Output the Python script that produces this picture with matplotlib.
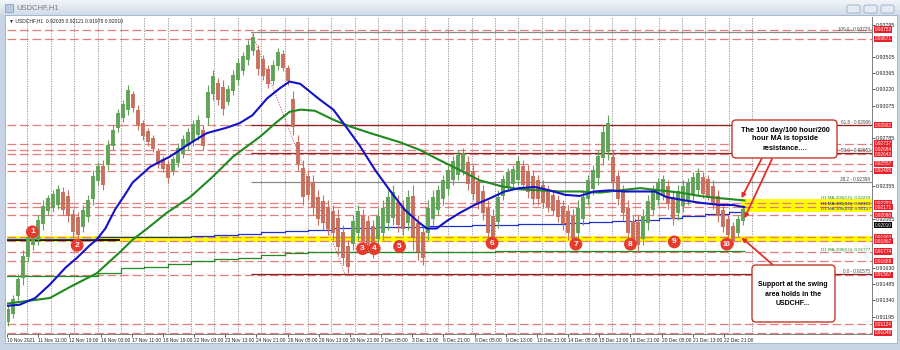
import numpy as np
import matplotlib.pyplot as plt
import matplotlib.transforms as mtransforms
from matplotlib.patches import Rectangle, FancyBboxPatch
from matplotlib.colors import LinearSegmentedColormap

plt.rcParams['font.family'] = ['Liberation Sans', 'DejaVu Sans']

# ---------------- data ----------------
symbol = "USDCHF,H1"
header_ohlc = "0.92035 0.92121 0.91978 0.92010"
bid = 0.92010

# hourly candles, grouped into ~5 bar columns (high / low)
col_high = [0.9130, 0.9139, 0.9157, 0.9179, 0.9195, 0.9201, 0.9210, 0.9223, 0.9228, 0.9232,
            0.9237, 0.9235, 0.9232, 0.9215, 0.9213, 0.9219, 0.9228, 0.9250, 0.9257, 0.9259,
            0.9277, 0.9290, 0.9305, 0.9313, 0.9326, 0.9321, 0.9308, 0.9295, 0.9288, 0.9281,
            0.9270, 0.9263, 0.9259, 0.9263, 0.9274, 0.9281, 0.9288, 0.9295, 0.9299, 0.9290,
            0.9326, 0.9339, 0.9332, 0.9330, 0.9326, 0.9339, 0.9350, 0.9355, 0.9366, 0.9372,
            0.9362, 0.9353, 0.9344, 0.9348, 0.9359, 0.9357, 0.9344, 0.9321, 0.9281, 0.9259,
            0.9250, 0.9246, 0.9232, 0.9228, 0.9223, 0.9219, 0.9215, 0.9201, 0.9188, 0.9210,
            0.9219, 0.9215, 0.9210, 0.9206, 0.9215, 0.9223, 0.9232, 0.9237, 0.9228, 0.9223,
            0.9232, 0.9237, 0.9210, 0.9201, 0.9223, 0.9232, 0.9237, 0.9246, 0.9255, 0.9263,
            0.9268, 0.9270, 0.9263, 0.9255, 0.9246, 0.9237, 0.9223, 0.9215, 0.9232, 0.9246,
            0.9252, 0.9255, 0.9263, 0.9259, 0.9255, 0.9250, 0.9246, 0.9241, 0.9237, 0.9232,
            0.9228, 0.9223, 0.9219, 0.9215, 0.9223, 0.9232, 0.9246, 0.9255, 0.9268, 0.9290,
            0.9299, 0.9268, 0.9250, 0.9237, 0.9223, 0.9210, 0.9210, 0.9215, 0.9228, 0.9237,
            0.9243, 0.9246, 0.9241, 0.9232, 0.9237, 0.9241, 0.9243, 0.9248, 0.9252, 0.9248,
            0.9246, 0.9241, 0.9232, 0.9219, 0.9210, 0.9204, 0.9210, 0.9219]
col_low = [0.9111, 0.9118, 0.9134, 0.9148, 0.9168, 0.9179, 0.9183, 0.9197, 0.9210, 0.9213,
           0.9215, 0.9210, 0.9204, 0.9190, 0.9188, 0.9195, 0.9204, 0.9219, 0.9237, 0.9232,
           0.9250, 0.9268, 0.9284, 0.9293, 0.9299, 0.9302, 0.9286, 0.9277, 0.9272, 0.9266,
           0.9252, 0.9248, 0.9239, 0.9246, 0.9253, 0.9261, 0.9268, 0.9272, 0.9277, 0.9268,
           0.9290, 0.9313, 0.9308, 0.9299, 0.9308, 0.9317, 0.9326, 0.9335, 0.9344, 0.9353,
           0.9335, 0.9330, 0.9323, 0.9326, 0.9339, 0.9338, 0.9326, 0.9281, 0.9250, 0.9219,
           0.9223, 0.9210, 0.9201, 0.9197, 0.9192, 0.9188, 0.9174, 0.9165, 0.9158, 0.9179,
           0.9188, 0.9181, 0.9179, 0.9172, 0.9183, 0.9188, 0.9197, 0.9201, 0.9195, 0.9192,
           0.9197, 0.9179, 0.9170, 0.9165, 0.9188, 0.9201, 0.9210, 0.9219, 0.9228, 0.9237,
           0.9241, 0.9246, 0.9232, 0.9223, 0.9215, 0.9206, 0.9188, 0.9183, 0.9198, 0.9223,
           0.9231, 0.9234, 0.9237, 0.9232, 0.9225, 0.9219, 0.9219, 0.9216, 0.9213, 0.9210,
           0.9204, 0.9197, 0.9188, 0.9183, 0.9188, 0.9201, 0.9219, 0.9228, 0.9237, 0.9255,
           0.9259, 0.9232, 0.9219, 0.9206, 0.9188, 0.9181, 0.9177, 0.9183, 0.9197, 0.9210,
           0.9219, 0.9223, 0.9215, 0.9201, 0.9206, 0.9213, 0.9219, 0.9223, 0.9228, 0.9225,
           0.9223, 0.9215, 0.9204, 0.9195, 0.9188, 0.9183, 0.9190, 0.9201]

# hourly moving averages (bar index, price)
h1_ma100_bars = [0, 13, 29, 44, 60, 72, 85, 92, 101, 111, 121, 129, 147, 167, 188, 205, 226, 239,
                 252, 267, 280, 290, 301, 321, 335, 347, 362, 378, 393, 408, 422, 431, 441, 452,
                 465, 480, 496, 511, 526, 542, 557, 573, 588, 603, 619, 634, 650, 665, 677, 696,
                 711, 732, 745, 757]
h1_ma100 = [0.9129, 0.9130, 0.9136, 0.9148, 0.9163, 0.9172, 0.9183, 0.9188, 0.9198, 0.9215,
            0.9228, 0.9239, 0.9253, 0.9262, 0.9274, 0.9283, 0.9288, 0.9292, 0.9299, 0.9314,
            0.9323, 0.9329, 0.9327, 0.9313, 0.9304, 0.9290, 0.9272, 0.9250, 0.9232, 0.9215,
            0.9204, 0.9198, 0.9198, 0.9205, 0.9212, 0.9219, 0.9225, 0.9231, 0.9234, 0.9235,
            0.9232, 0.9228, 0.9227, 0.9231, 0.9232, 0.9231, 0.9231, 0.9231, 0.9226, 0.9223,
            0.9221, 0.9219, 0.9219, 0.9217]
h1_ma200_bars = [0, 44, 65, 92, 116, 129, 144, 164, 188, 211, 232, 260, 277, 290, 301, 316, 335,
                 352, 373, 403, 424, 444, 465, 485, 506, 526, 547, 567, 588, 609, 629, 650, 670,
                 691, 711, 732, 757]
h1_ma200 = [0.9131, 0.9136, 0.9146, 0.9158, 0.9177, 0.9188, 0.9198, 0.9212, 0.9226, 0.9244,
            0.9262, 0.9280, 0.9293, 0.9302, 0.9304, 0.9303, 0.9295, 0.9289, 0.9283, 0.9275,
            0.9268, 0.9259, 0.9250, 0.9241, 0.9236, 0.9233, 0.9232, 0.9231, 0.9231, 0.9230,
            0.9232, 0.9234, 0.9232, 0.9230, 0.9227, 0.9225, 0.9223]

# daily moving averages, one value per trading day
d1_ma100 = [0.9189, 0.9189, 0.9189, 0.9189, 0.9190, 0.9190, 0.9190, 0.9190, 0.9191, 0.9192,
            0.9193, 0.9195, 0.9196, 0.9197, 0.9198, 0.9198, 0.9199, 0.9199, 0.9200, 0.9200,
            0.9201, 0.9201, 0.9202, 0.9202, 0.9203, 0.9204, 0.9205, 0.9206, 0.9207, 0.9209,
            0.9211, 0.9213]
d1_ma200 = [0.9156, 0.9156, 0.9156, 0.9156, 0.9158, 0.9163, 0.9164, 0.9166, 0.9169, 0.9171,
            0.9172, 0.9174, 0.9176, 0.9177, 0.9177, 0.9177, 0.9177, 0.9177, 0.9177, 0.9177,
            0.9177, 0.9178, 0.9178, 0.9178, 0.9178, 0.9178, 0.9178, 0.9178, 0.9178, 0.9178,
            0.9178, 0.9178]

date_labels = ["10 Nov 2021", "11 Nov 11:00", "12 Nov 19:00", "16 Nov 03:00", "17 Nov 11:00",
               "18 Nov 19:00", "22 Nov 03:00", "23 Nov 13:00", "24 Nov 21:00", "26 Nov 05:00",
               "29 Nov 13:00", "30 Nov 21:00", "2 Dec 05:00", "3 Dec 13:00", "6 Dec 21:00",
               "8 Dec 05:00", "9 Dec 13:00", "10 Dec 21:00", "14 Dec 05:00", "15 Dec 13:00",
               "16 Dec 21:00", "20 Dec 05:00", "21 Dec 13:00", "22 Dec 21:00"]
# price scale labels that are not hidden behind the price tags
price_ticks = [0.93795, 0.93505, 0.93365, 0.93220, 0.93075, 0.92785, 0.92355, 0.92065,
               0.91630, 0.91485, 0.91340, 0.91195]

# horizontal levels (red dashed + red price tag)
red_levels = [0.93753, 0.93671, 0.92902, 0.92737, 0.92684, 0.92643, 0.92557, 0.92495, 0.92203,
              0.92171, 0.92098, 0.91903, 0.91867, 0.91774, 0.91688, 0.91567, 0.91124, 0.91048]

fib_levels = [100.0, 61.8, 50.0, 38.2, 0.0]
fib_prices = [0.93729, 0.92906, 0.92652, 0.92398, 0.91575]
fib_colors = ['#8a8a8a', '#8b2323', '#8b2323', '#8a8a8a', '#8b2323']

swing_zone = (0.91855, 0.91915)
ma_zone = (0.92130, 0.92240)
swing_line = 0.9188

ma_labels = ["H1 MA-200(0,0): 0.92239", "H1 MA-100(0,0): 0.92183",
             "D1 MA-100(0,0): 0.92137", "D1 MA-200(0,0): 0.91777"]
ma_label_prices = [0.92255, 0.92200, 0.92150, 0.91785]
ma_label_colors = ['#1f8a1f', '#0a0a80', '#2030d0', '#1f8a1f']

marker_bars = [26, 72, 365, 377, 403, 498, 584, 640, 685, 739]
marker_prices = [0.9195, 0.9183, 0.9180, 0.9180, 0.9182, 0.9185, 0.9184, 0.9184, 0.9186, 0.9184]

# ---------------- layout ----------------
W, H = 900, 350
BAR_PX = 0.9745          # pixels per hourly bar
COL_BARS = 5 / BAR_PX    # bars per candle column
N_BARS = 888


def fx(px):
    return px / W


def fy(py):
    return 1 - py / H


fig = plt.figure(figsize=(9, 3.5), dpi=100)
fig.patch.set_facecolor('#c6d4e3')

# client area (behind everything)
fig.patches.append(Rectangle((fx(5), fy(343)), (897 - 5) / W, (343 - 15) / H,
                             transform=fig.transFigure, fc='white', ec='#9fb0c3', lw=0.6,
                             zorder=-5))

# window title bar
tb = fig.add_axes([0, fy(15), 1, 15 / H])
tb.imshow(np.linspace(0, 1, 30).reshape(-1, 1), aspect='auto', extent=[0, 1, 0, 1],
          cmap=LinearSegmentedColormap.from_list('tb', ['#f2f6fa', '#d0dce8']))
tb.axis('off')
fig.add_artist(Rectangle((fx(5), fy(12)), 8 / W, 8 / H, transform=fig.transFigure,
                         fc='#b8cce4', ec='#7d97b8', lw=0.5, zorder=5))
fig.text(fx(16), fy(8), symbol, fontsize=5.5, color='#7a7a7a', va='center')
for bx in (847, 864, 881):
    fig.add_artist(FancyBboxPatch((bx, H - 13), 13, 8, boxstyle='round,pad=0,rounding_size=2',
                                  transform=mtransforms.IdentityTransform(),
                                  fc='#e4ebf3', ec='#8fa3bb', lw=0.5, zorder=5))

ax = fig.add_axes([fx(7), fy(334), (872 - 7) / W, (334 - 17) / H])
ax.set_facecolor('white')
ax.set_xlim(0, N_BARS)
ax.set_ylim(0.91039, 0.93866)
trans = mtransforms.blended_transform_factory(ax.transAxes, ax.transData)

# vertical day grid
grid_bars = 21 + 24 * np.arange(32)
for b in grid_bars:
    ax.axvline(b, color='#8c8c8c', ls=(0, (1.5, 1.5)), lw=0.6, zorder=1)

# zones
ax.axhspan(*swing_zone, color='#ffff00', lw=0, zorder=1.5)
ax.fill_between([754, N_BARS], ma_zone[0], ma_zone[1], color='#ffff00', lw=0, zorder=1.5)

# red dashed levels
for p in red_levels:
    ax.axhline(p, color='#e77c7c', lw=0.9, ls=(0, (7, 3)), zorder=2)

# fibonacci
ax.hlines(fib_prices, 251, N_BARS, colors=fib_colors, lw=0.9, zorder=2)
ax.plot([251, 347], [fib_prices[0], fib_prices[-1]], color='#c84040', ls=':', lw=0.7, zorder=2)
for lvl, p in zip(fib_levels, fib_prices):
    ax.text(0.998, p, f"{lvl:.1f} - {p:.5f}", transform=trans, ha='right', va='bottom',
            fontsize=3.3, color='#444444', zorder=6)

ax.hlines(swing_line, 0, 116, color='black', lw=1.3, zorder=3)

# daily MAs as steps
day_edges = np.r_[0, grid_bars[:31], 757]
ax.step(day_edges, np.r_[d1_ma100, d1_ma100[-1]], where='post', color='#2030d0', lw=0.9, zorder=3)
ax.step(day_edges, np.r_[d1_ma200, d1_ma200[-1]], where='post', color='#1f8a1f', lw=0.9, zorder=3)

# candles
hi = np.array(col_high)
lo = np.array(col_low)
mid = (hi + lo) / 2
up = np.r_[True, mid[1:] >= mid[:-1]]
colors = np.where(up, '#62a35a', '#c9705f')
cx = 1 + np.arange(len(hi)) * COL_BARS
rng = hi - lo
ax.vlines(cx, lo, hi, colors=colors, lw=0.8, zorder=4)
ax.vlines(cx, lo + 0.18 * rng, hi - 0.18 * rng, colors=colors, lw=2.8, zorder=4)

# hourly MAs
ax.plot(h1_ma200_bars, h1_ma200, color='#1f8a1f', lw=1.5, zorder=5)
ax.plot(h1_ma100_bars, h1_ma100, color='#1212c8', lw=1.5, zorder=5)

for txt, p, c in zip(ma_labels, ma_label_prices, ma_label_colors):
    ax.text(0.998, p, txt, transform=trans, ha='right', va='center', fontsize=3.2, color=c, zorder=6)

# numbered swing lows
ax.scatter(marker_bars, marker_prices, s=85, c='#e63b2e', edgecolors='none', zorder=8)
for i, (b, p) in enumerate(zip(marker_bars, marker_prices), start=1):
    ax.text(b, p, str(i), ha='center', va='center', color='white', fontweight='bold',
            fontsize=6 if i < 10 else 5, zorder=9)

# axes styling
for s in ('top', 'left'):
    ax.spines[s].set_visible(False)
for s in ('right', 'bottom'):
    ax.spines[s].set_color('#6a6a6a')
    ax.spines[s].set_linewidth(0.6)
ax.yaxis.tick_right()
ax.set_yticks(price_ticks, [f"{t:.5f}" for t in price_ticks])
ax.tick_params(axis='y', length=2, width=0.5, pad=1, labelsize=3.8, colors='#222222')
ax.set_xticks(32 * np.arange(len(date_labels)), date_labels)
ax.tick_params(axis='x', length=2, width=0.5, pad=0.8, labelsize=3.5, colors='#222222')
for lbl in ax.get_xticklabels():
    lbl.set_ha('left')

# price tags on the right scale
for p in red_levels:
    ax.text(1.003, p, f"{p:.5f}", transform=trans, ha='left', va='center', fontsize=3.4,
            color='white', clip_on=False, zorder=10,
            bbox=dict(boxstyle='square,pad=0.15', fc='#e8202a', ec='none'))
ax.text(1.003, bid, f"{bid:.5f}", transform=trans, ha='left', va='center', fontsize=3.4,
        color='white', clip_on=False, zorder=10,
        bbox=dict(boxstyle='square,pad=0.15', fc='black', ec='none'))

fig.text(fx(9), fy(21), f"\u25bc {symbol}  {header_ohlc}", fontsize=3.6, color='#222222',
         va='center', family=['Liberation Sans', 'DejaVu Sans'])

# call-out boxes
ident = mtransforms.IdentityTransform()
for (x0, y0, w, h) in [(732, 120, 105, 38), (752, 265, 83, 57)]:
    fig.add_artist(FancyBboxPatch((x0, H - y0 - h), w, h, boxstyle='round,pad=0,rounding_size=4',
                                  transform=ident, fc='white', ec='#c0392b', lw=1.0, zorder=20))
fig.text(fx(785), fy(139), "The 100 day/100 hour/200\nhour MA is topside\nresistance....",
         ha='center', va='center', fontsize=5.3, fontweight='bold', linespacing=1.4, zorder=21)
fig.text(fx(793), fy(294), "Support at the swing\narea holds in the\nUSDCHF...",
         ha='center', va='center', fontsize=5.0, fontweight='bold', linespacing=1.45, zorder=21)

arrow = dict(arrowstyle='-|>', color='#e0302a', lw=1.3, mutation_scale=6, shrinkA=0, shrinkB=0)
for (sx, sy), target in [((762, 158), (754, 0.9225)), ((772, 159), (757, 0.9207)),
                         ((773, 265), (754, 0.9190))]:
    ax.annotate('', xy=target, xycoords='data', xytext=(sx, H - sy), textcoords='figure pixels',
                arrowprops=arrow, annotation_clip=False, zorder=22)

fig.savefig('out.png', dpi=100)
